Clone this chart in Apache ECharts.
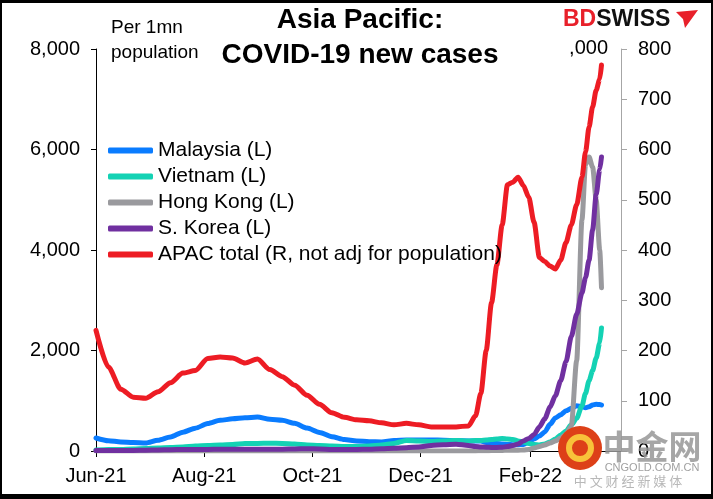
<!DOCTYPE html>
<html>
<head>
<meta charset="utf-8">
<script src="https://cdn.jsdelivr.net/npm/echarts@6/dist/echarts.min.js"></script>
<style>
  html, body { margin: 0; padding: 0; background: #fff; }
  #main { width: 713px; height: 499px; }
</style>
</head>
<body>
<div id="main"></div>
<script>
// dates of the readings (weekly, then every ~3 days from January)
var dates = ['2021-06-01','2021-06-08','2021-06-15','2021-06-22','2021-06-29','2021-07-06','2021-07-13','2021-07-20','2021-07-27',
    '2021-08-03','2021-08-10','2021-08-17','2021-08-24','2021-08-31','2021-09-07','2021-09-14','2021-09-21','2021-09-28',
    '2021-10-05','2021-10-12','2021-10-19','2021-10-26','2021-11-02','2021-11-09','2021-11-16','2021-11-23','2021-11-30',
    '2021-12-07','2021-12-14','2021-12-21','2021-12-28','2022-01-01','2022-01-04','2022-01-07','2022-01-10','2022-01-13',
    '2022-01-16','2022-01-19','2022-01-22','2022-01-25','2022-01-28','2022-01-31','2022-02-03','2022-02-06','2022-02-09',
    '2022-02-12','2022-02-15','2022-02-18','2022-02-21','2022-02-24','2022-02-27','2022-03-02','2022-03-04','2022-03-06',
    '2022-03-08','2022-03-10','2022-03-12','2022-03-13'];

// per 1mn population (left axis)
var malaysia = [259,205,180,170,160,215,279,375,455,545,610,640,660,677,630,610,550,458,370,285,230,200,185,180,210,
    219,219,219,215,205,199,199,199,170,160,150,140,130,125,125,130,180,240,300,380,530,657,720,800,850,900,880,860,880,
    915,930,925,915];
var vietnam = [20,30,30,40,50,60,70,80,100,110,120,130,150,150,155,150,140,120,110,100,90,90,100,120,150,210,200,190,
    200,210,200,210,210,220,230,240,250,240,230,200,180,150,130,120,140,180,240,320,400,520,650,900,1150,1400,1600,
    1850,2150,2450];
var hongKong = [0,0,0,0,0,0,0,0,0,0,0,0,0,0,0,0,0,0,0,0,0,0,0,0,0,0,0,0,0,0,0,2,3,5,8,10,12,15,15,15,20,30,60,90,120,
    160,200,260,330,500,1800,4600,5700,5850,5650,5000,4000,3250];
var sKorea = [10,10,10,12,15,20,25,30,30,32,35,35,35,35,35,35,40,45,40,30,30,30,35,45,55,65,80,110,125,135,110,90,80,
    75,70,70,75,90,110,140,200,250,330,480,640,876,1100,1400,1780,2280,2720,3150,3450,3800,4400,5100,5600,5850];
// APAC total, '000 (right axis)
var apacTotal = [240,167,123,107,105,118,136,155,160,184,187,185,175,183,162,148,131,111,93,76,67,62,60,56,52,55,52,
    48,48,48,50,70,115,200,295,370,450,530,535,545,528,505,455,385,377,368,362,380,415,450,490,545,595,645,685,718,
    740,768];

var seriesNames = ['Malaysia (L)', 'Vietnam (L)', 'Hong Kong (L)', 'S. Korea (L)', 'APAC total (R, not adj for population)'];
var monthNames = ['Jan','Feb','Mar','Apr','May','Jun','Jul','Aug','Sep','Oct','Nov','Dec'];
var xTickDates = ['2021-06-01', '2021-08-01', '2021-10-01', '2021-12-01', '2022-02-01'];

var FONT = "'Liberation Sans', Arial, sans-serif";

function toTime(s) {
    var p = s.split('-');
    return Date.UTC(+p[0], +p[1] - 1, +p[2]);
}

var xTicks = xTickDates.map(toTime);

function pairs(vals) {
    var out = [];
    for (var i = 0; i < vals.length; i++) {
        out.push([toTime(dates[i]), vals[i]]);
    }
    return out;
}

function makeLine(name, vals, color, axis) {
    return {
        name: name,
        type: 'line',
        yAxisIndex: axis,
        showSymbol: false,
        smooth: 0.25,
        smoothMonotone: 'x',
        lineStyle: { width: 5, color: color, cap: 'round', join: 'round' },
        itemStyle: { color: color },
        emphasis: { disabled: true },
        data: pairs(vals)
    };
}

var myChart = echarts.init(document.getElementById('main'));
var option = {
    animation: false,
    textStyle: { fontFamily: FONT },
    grid: { left: 96, right: 92, top: 49, bottom: 48 },
    legend: {
        orient: 'vertical',
        left: 103,
        top: 135,
        itemWidth: 45,
        itemHeight: 6,
        itemGap: 5,
        icon: 'roundRect',
        data: seriesNames,
        textStyle: { fontSize: 21, color: '#000', fontFamily: FONT }
    },
    xAxis: {
        type: 'value',
        min: toTime('2021-06-01'),
        max: toTime('2022-03-24'),
        axisLine: { lineStyle: { color: '#000', width: 1 } },
        axisTick: { show: true, length: 6, customValues: xTicks, lineStyle: { color: '#000' } },
        splitLine: { show: false },
        axisLabel: {
            customValues: xTicks,
            margin: 15,
            fontSize: 20,
            color: '#000',
            fontFamily: FONT,
            formatter: function (v) {
                var d = new Date(v);
                return monthNames[d.getUTCMonth()] + '-' + String(d.getUTCFullYear()).slice(2);
            }
        }
    },
    yAxis: [{
        type: 'value',
        position: 'left',
        min: 0,
        max: 8000,
        interval: 2000,
        axisLine: { show: true, lineStyle: { color: '#000' } },
        axisTick: { show: true, length: 5, lineStyle: { color: '#000' } },
        splitLine: { show: false },
        axisLabel: {
            margin: 16,
            fontSize: 20,
            color: '#000',
            fontFamily: FONT,
            formatter: function (v) { return v.toLocaleString('en-US'); }
        }
    }, {
        type: 'value',
        position: 'right',
        min: 0,
        max: 800,
        interval: 100,
        axisLine: { show: true, lineStyle: { color: '#a6a6a6' } },
        axisTick: { show: true, length: 6, lineStyle: { color: '#a6a6a6' } },
        splitLine: { show: false },
        axisLabel: { margin: 17, fontSize: 20, color: '#000', fontFamily: FONT }
    }],
    graphic: [
        // frame
        { type: 'rect', shape: { x: 0, y: 0, width: 713, height: 3 }, style: { fill: '#000' }, z: 100 },
        { type: 'rect', shape: { x: 0, y: 494, width: 713, height: 5 }, style: { fill: '#000' }, z: 100 },
        { type: 'rect', shape: { x: 0, y: 0, width: 2, height: 499 }, style: { fill: '#000' }, z: 100 },
        { type: 'rect', shape: { x: 711, y: 0, width: 2, height: 499 }, style: { fill: '#000' }, z: 100 },
        // title
        { type: 'text', x: 360, y: 20, style: { text: 'Asia Pacific:', fontSize: 28, fontWeight: 'bold', fontFamily: FONT, fill: '#000', align: 'center', verticalAlign: 'middle' } },
        { type: 'text', x: 360, y: 55, style: { text: 'COVID-19 new cases', fontSize: 28, fontWeight: 'bold', fontFamily: FONT, fill: '#000', align: 'center', verticalAlign: 'middle' } },
        // unit notes
        { type: 'text', x: 111, y: 28, style: { text: 'Per 1mn', fontSize: 19, fontFamily: FONT, fill: '#000', verticalAlign: 'middle' } },
        { type: 'text', x: 111, y: 53, style: { text: 'population', fontSize: 19, fontFamily: FONT, fill: '#000', verticalAlign: 'middle' } },
        { type: 'text', x: 608, y: 48, style: { text: ',000', fontSize: 20, fontFamily: FONT, fill: '#000', align: 'right', verticalAlign: 'middle' } },
        // logo
        { type: 'text', x: 563, y: 20, style: {
            text: '{a|BD}{b|SWISS}', verticalAlign: 'middle',
            rich: {
                a: { fontSize: 23, fontWeight: 'bold', fontFamily: FONT, fill: '#e8202a', color: '#e8202a' },
                b: { fontSize: 23, fontWeight: 'bold', fontFamily: FONT, fill: '#111', color: '#111' }
            }
        } },
        { type: 'polygon', shape: { points: [[676, 12], [698, 10], [685, 28], [683, 19]] }, style: { fill: '#e8202a' } },
        // watermark
        { type: 'circle', shape: { cx: 580, cy: 448, r: 22 }, style: { fill: '#dd4018' }, z: 50 },
        { type: 'circle', shape: { cx: 580, cy: 448, r: 11 }, style: { fill: 'none', stroke: '#f8c23a', lineWidth: 6 }, z: 51 },
        { type: 'text', x: 652, y: 446, z: 50, style: { text: '中金网', fontSize: 33, fontWeight: 'bold', fontFamily: 'Noto Sans CJK SC', fill: 'rgba(150,150,150,0.85)', align: 'center', verticalAlign: 'middle' } },
        { type: 'text', x: 652, y: 468, z: 50, style: { text: 'CNGOLD.COM.CN', fontSize: 11, fontFamily: FONT, fill: '#a0a0a0', align: 'center', verticalAlign: 'middle' } },
        { type: 'text', x: 628, y: 481, z: 50, style: { text: '中 文 财 经 新 媒 体', fontSize: 13, fontFamily: 'Noto Sans CJK SC', fill: '#b8b8b8', align: 'center', verticalAlign: 'middle' } }
    ],
    series: [
        makeLine(seriesNames[0], malaysia, '#0a7cff', 0),
        makeLine(seriesNames[1], vietnam, '#14d2b4', 0),
        makeLine(seriesNames[2], hongKong, '#9a9a9e', 0),
        makeLine(seriesNames[3], sKorea, '#7030a0', 0),
        makeLine(seriesNames[4], apacTotal, '#ed1c24', 1)
    ]
};
myChart.setOption(option);
</script>
</body>
</html>
